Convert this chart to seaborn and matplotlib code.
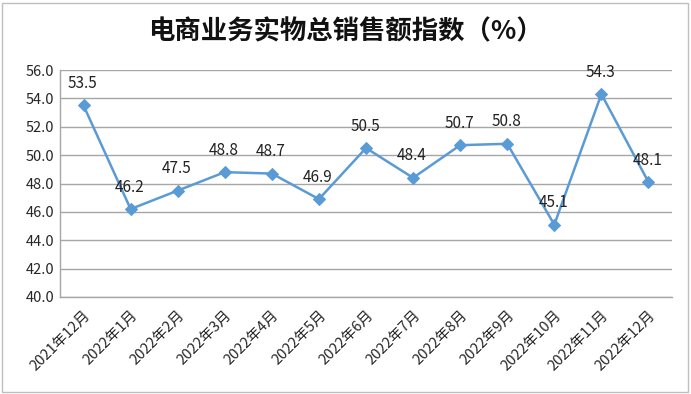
import numpy as np
import pandas as pd
import matplotlib
matplotlib.use("Agg")
import matplotlib.pyplot as plt
import seaborn as sns
from matplotlib.patches import Rectangle

sns.set_style("white")
plt.rcParams['font.family'] = ['Noto Sans CJK SC', 'DejaVu Sans']

# Data
months = ['2021年12月', '2022年1月', '2022年2月', '2022年3月', '2022年4月', '2022年5月',
          '2022年6月', '2022年7月', '2022年8月', '2022年9月', '2022年10月', '2022年11月',
          '2022年12月']
values = [53.5, 46.2, 47.5, 48.8, 48.7, 46.9, 50.5, 48.4, 50.7, 50.8, 45.1, 54.3, 48.1]
title = '电商业务实物总销售额指数（%）'

df = pd.DataFrame({'pos': np.arange(len(months)), 'value': values})

color = '#5B9BD5'
grid_color = '#A6A6A6'

fig = plt.figure(figsize=(6.91, 3.94), dpi=100)
ax = fig.add_axes([60 / 691, 1 - 297 / 394, 612 / 691, 227 / 394])

sns.lineplot(data=df, x='pos', y='value', ax=ax, color=color, linewidth=1.8,
             marker='D', markersize=6, markeredgecolor=color, zorder=3)

# data labels above the points
for i, v in enumerate(values):
    ax.annotate(f'{v:.1f}', (i, v), xytext=(-1, 22), textcoords='offset pixels',
                ha='center', va='center', fontsize=11, color='#222222')

ax.set_xlim(-0.5, len(months) - 0.5)
ax.set_ylim(40, 56)
ax.set_yticks(np.arange(40, 56.1, 2))
ax.set_yticklabels([f'{t:.1f}' for t in np.arange(40, 56.1, 2)], fontsize=10.5)
ax.set_xticks(np.arange(len(months)))
ax.set_xticklabels(months, rotation=45, ha='right', rotation_mode='anchor', fontsize=10.5)
ax.set_xticks(np.arange(-0.5, len(months)), minor=True)
ax.tick_params(axis='x', which='major', length=0, pad=8)
ax.tick_params(axis='x', which='minor', length=5, color=grid_color, width=1)
ax.tick_params(axis='y', length=0, pad=4)
ax.set_xlabel('')
ax.set_ylabel('')

ax.yaxis.grid(True, color=grid_color, linewidth=1)
ax.set_axisbelow(True)
for side in ['top', 'right']:
    ax.spines[side].set_visible(False)
for side in ['left', 'bottom']:
    ax.spines[side].set_color(grid_color)
    ax.spines[side].set_linewidth(1)

fig.text(0.5, 1 - 32 / 394, title, ha='center', va='center', fontsize=19, fontweight='bold',
         color='#111111')

fig.patches.append(Rectangle((2 / 691, 2 / 394), 686 / 691, 389 / 394, transform=fig.transFigure,
                             fill=False, edgecolor='#BFBFBF', linewidth=1))

fig.savefig('out.png', dpi=100)
